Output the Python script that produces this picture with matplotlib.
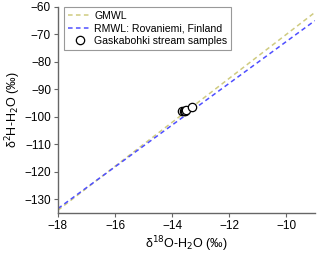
import matplotlib
matplotlib.use("Agg")
import matplotlib.pyplot as plt
import numpy as np

plt.rcParams['font.family'] = ['Liberation Sans', 'DejaVu Sans']

# meteoric water lines (slope, intercept) and sample points
gmwl_slope, gmwl_icpt = 8.0, 10.0
rmwl_slope, rmwl_icpt = 7.6, 3.4
line_x = [-18, -9]

d18o = [-13.66, -13.6, -13.55, -13.5, -13.31]
d2h = [-98.0, -97.9, -97.7, -97.5, -96.4]

fig = plt.figure(figsize=(3.2, 2.56), dpi=100)
ax = fig.add_axes([0.181, 0.168, 0.803, 0.805])

gx = np.array(line_x, dtype=float)
ax.plot(gx, gmwl_slope * gx + gmwl_icpt, ls=(0, (3, 2.2)), color="#cfcb80",
        lw=1.1, label="GMWL")
ax.plot(gx, rmwl_slope * gx + rmwl_icpt, ls=(0, (3, 2.2)), color="#4f4fff",
        lw=1.1, label="RMWL: Rovaniemi, Finland")
ax.plot(d18o, d2h, ls="none", marker="o", ms=6, mfc="white", mec="black",
        mew=0.9, label="Gaskabohki stream samples")

ax.set_xlim(-18, -9)
ax.set_ylim(-135, -60)
ax.set_xticks([-18, -16, -14, -12, -10])
ax.set_yticks([-130, -120, -110, -100, -90, -80, -70, -60])
for s in ["top", "right"]:
    ax.spines[s].set_visible(False)
for s in ["left", "bottom"]:
    ax.spines[s].set_color("#666666")
    ax.spines[s].set_linewidth(1.0)
ax.tick_params(direction="out", length=3, width=0.8, color="#666666",
               labelsize=8.5, pad=2)

ax.set_xlabel("δ$^{18}$O-H$_2$O (‰)", fontsize=9, labelpad=2)
ax.set_ylabel("δ$^2$H-H$_2$O (‰)", fontsize=9, labelpad=1)

leg = ax.legend(loc="upper left", fontsize=7.6, frameon=True, fancybox=False,
                edgecolor="#999999", framealpha=1, borderpad=0.35,
                labelspacing=0.25, handlelength=2.2, handletextpad=0.3,
                borderaxespad=0.0, bbox_to_anchor=(0.025, 1.0))
leg.get_frame().set_linewidth(0.8)

fig.savefig("out.png", dpi=100)
